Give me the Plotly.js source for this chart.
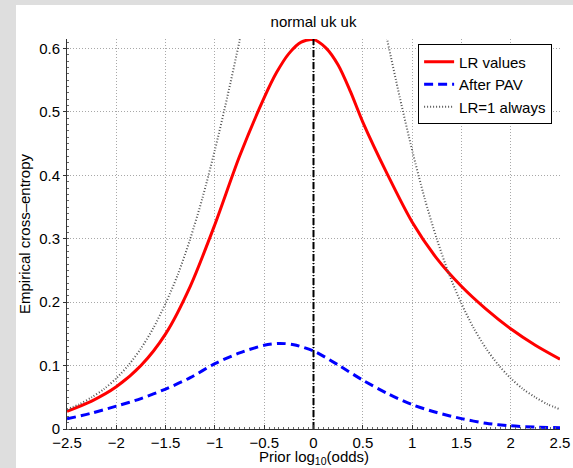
<!DOCTYPE html>
<html>
<head>
<meta charset="utf-8">
<script src="https://cdn.plot.ly/plotly-3.0.1.min.js"></script>
<style>
  html, body { margin: 0; padding: 0; background: #dedede; width: 573px; height: 468px; overflow: hidden; }
  #chart { position: absolute; left: 16px; top: 5px; width: 557px; height: 463px; background: #ffffff; }
</style>
</head>
<body>
<div id="chart"></div>
<script>
// ---- data ----
const chartTitle = "normal uk uk";
const xTitle = "Prior log<sub>10</sub>(odds)";
const yTitle = "Empirical cross–entropy";
const seriesNames = ["LR values", "After PAV", "LR=1 always"];

const lrX = [-2.5, -2.25, -2.0, -1.75, -1.5, -1.25, -1.0, -0.75, -0.5, -0.375, -0.25, -0.125, 0.0, 0.125, 0.25, 0.375, 0.5, 0.75, 1.0, 1.25, 1.5, 1.75, 2.0, 2.25, 2.5];
const lrY = [0.028, 0.044, 0.0665, 0.100, 0.150, 0.225, 0.3225, 0.430, 0.5225, 0.562, 0.592, 0.610, 0.614, 0.601, 0.574, 0.532, 0.484, 0.4015, 0.3265, 0.269, 0.225, 0.189, 0.158, 0.132, 0.110];

const pavX = [-2.5, -2.25, -2.0, -1.75, -1.5, -1.25, -1.0, -0.75, -0.5, -0.35, -0.2, 0.0, 0.25, 0.5, 0.75, 1.0, 1.25, 1.5, 1.75, 2.0, 2.25, 2.5];
const pavY = [0.016, 0.025, 0.036, 0.048, 0.063, 0.081, 0.103, 0.120, 0.132, 0.135, 0.133, 0.123, 0.101, 0.077, 0.056, 0.0385, 0.026, 0.0164, 0.009, 0.005, 0.003, 0.002];

const refX = [-2.5, -2.375, -2.25, -2.125, -2.0, -1.875, -1.75, -1.625, -1.5, -1.375, -1.25, -1.125, -1.0, -0.875, -0.75, -0.625,
              0.625, 0.75, 0.875, 1.0, 1.125, 1.25, 1.375, 1.5, 1.625, 1.75, 1.875, 2.0, 2.125, 2.25, 2.375, 2.5];
const refY = [0.031, 0.039, 0.050, 0.063, 0.080, 0.101, 0.127, 0.159, 0.198, 0.244, 0.300, 0.365, 0.440, 0.523, 0.612, 0.705,
              0.705, 0.612, 0.523, 0.440, 0.365, 0.300, 0.244, 0.198, 0.159, 0.127, 0.101, 0.080, 0.063, 0.050, 0.039, 0.031];
const refGapAfter = 15; // the curve leaves the top of the axes between the two halves

const vlineX = [0, 0];
const vlineY = [0, 0.615];

const xTickVals = [-2.5, -2, -1.5, -1, -0.5, 0, 0.5, 1, 1.5, 2, 2.5];
const xTickText = ["\u22122.5", "\u22122", "\u22121.5", "\u22121", "\u22120.5", "0", "0.5", "1", "1.5", "2", "2.5"];
const yTickVals = [0, 0.1, 0.2, 0.3, 0.4, 0.5, 0.6];
const yTickText = ["0", "0.1", "0.2", "0.3", "0.4", "0.5", "0.6"];
const xRange = [-2.5, 2.5];
const yRange = [0, 0.615];

// ---- build ----
const refXs = refX.slice(0, refGapAfter + 1).concat([null], refX.slice(refGapAfter + 1));
const refYs = refY.slice(0, refGapAfter + 1).concat([null], refY.slice(refGapAfter + 1));

const FONT = "Liberation Sans, Arial, Helvetica, sans-serif";
const FS = 15;

const traces = [
  { x: lrX, y: lrY, name: seriesNames[0], type: "scatter", mode: "lines",
    line: { color: "#ff0000", width: 3, shape: "spline", smoothing: 0.8 } },
  { x: pavX, y: pavY, name: seriesNames[1], type: "scatter", mode: "lines",
    line: { color: "#0000ff", width: 3, dash: "9px,5px", shape: "spline", smoothing: 0.8 } },
  { x: refXs, y: refYs, name: seriesNames[2], type: "scatter", mode: "lines", connectgaps: false,
    line: { color: "#555555", width: 2, dash: "1px,2px", shape: "spline", smoothing: 0.8 } },
  { x: vlineX, y: vlineY, showlegend: false, type: "scatter", mode: "lines",
    line: { color: "#000000", width: 2, dash: "7px,2px,1px,2px" } }
];

const layout = {
  width: 557, height: 463,
  paper_bgcolor: "#ffffff", plot_bgcolor: "#ffffff",
  margin: { l: 51, r: 13, t: 34, b: 39, pad: 0 },
  font: { family: FONT, size: FS, color: "#000000" },
  showlegend: true,
  title: { text: chartTitle, font: { family: FONT, size: FS, color: "#000" },
           x: 0.5, xref: "paper", xanchor: "center", y: 1, yref: "container", yanchor: "top", pad: { t: 11 } },
  xaxis: {
    range: xRange, tickmode: "array", tickvals: xTickVals, ticktext: xTickText,
    showline: true, linecolor: "#333333", linewidth: 1, mirror: false,
    ticks: "inside", ticklen: 4, tickcolor: "#333333", ticklabelstandoff: 0,
    showgrid: true, gridcolor: "#a8a8a8", griddash: "1px,2px", gridwidth: 1,
    zeroline: false, tickfont: { family: FONT, size: FS },
    minor: { dtick: 0.05, ticks: "inside", ticklen: 2, tickcolor: "#666666", showgrid: false },
    automargin: false, fixedrange: true
  },
  yaxis: {
    range: yRange, tickmode: "array", tickvals: yTickVals, ticktext: yTickText,
    showline: true, linecolor: "#333333", linewidth: 1, mirror: false,
    ticks: "outside", ticklen: 3, tickcolor: "#333333",
    showgrid: true, gridcolor: "#a8a8a8", griddash: "1px,2px", gridwidth: 1,
    zeroline: false, tickfont: { family: FONT, size: FS },
    minor: { dtick: 0.01, ticks: "inside", ticklen: 2, tickcolor: "#666666", showgrid: false },
    title: { text: yTitle, font: { family: FONT, size: FS }, standoff: 6 },
    automargin: false, fixedrange: true
  },
  annotations: [
    { text: xTitle, xref: "paper", yref: "paper", x: 0.5, y: -0.074, xanchor: "center", yanchor: "middle",
      showarrow: false, font: { family: FONT, size: FS, color: "#000" } }
  ],
  legend: {
    x: 0.984, xanchor: "right", y: 0.986, yanchor: "top",
    bgcolor: "#ffffff", bordercolor: "#000000", borderwidth: 1,
    font: { family: FONT, size: FS }, tracegroupgap: 0, itemwidth: 30
  }
};

Plotly.newPlot("chart", traces, layout, { displayModeBar: false, staticPlot: true });
</script>
</body>
</html>
